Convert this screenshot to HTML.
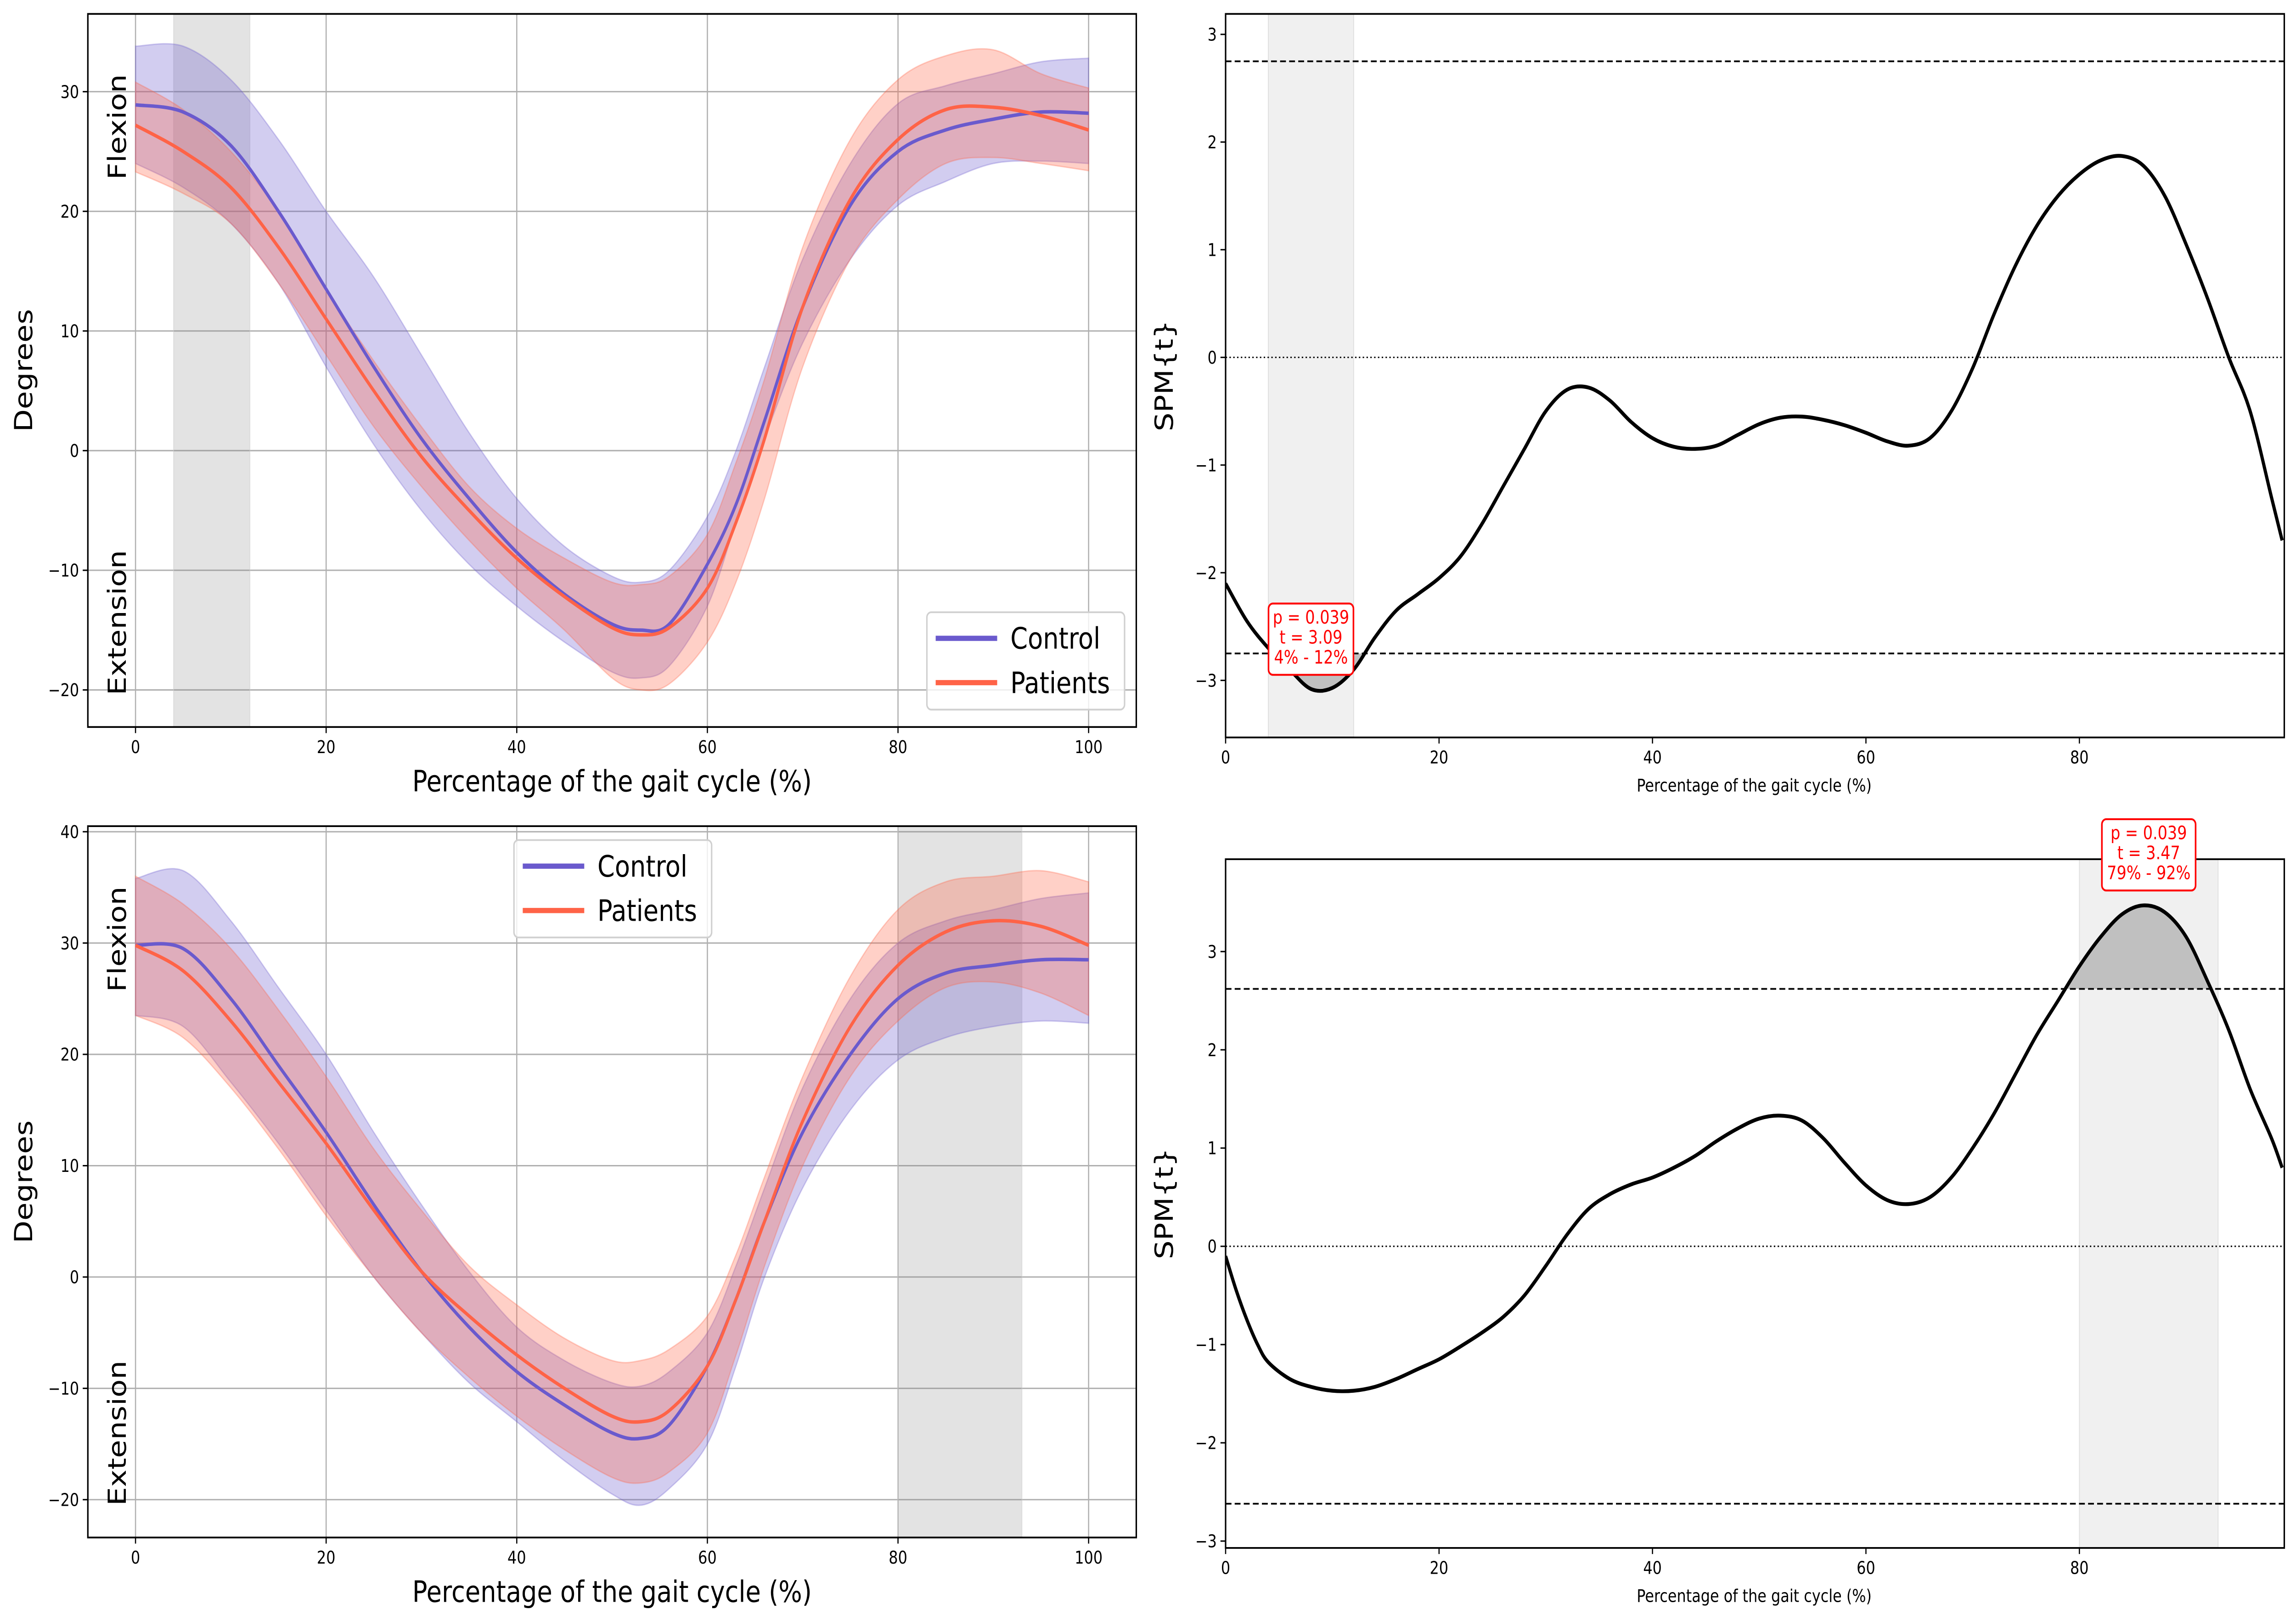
<!DOCTYPE html>
<html><head><meta charset="utf-8"><style>
html,body{margin:0;padding:0;background:#fff;width:100vw;height:100vh;overflow:hidden;}
svg{display:block;position:absolute;left:0;top:0;width:100vw;height:100vh;font-family:"DejaVu Sans","Liberation Sans",sans-serif;}
</style></head><body>
<svg id="fig" viewBox="0 0 1568 932" preserveAspectRatio="none" xmlns="http://www.w3.org/2000/svg"><g id="root"></g></svg>
<script>
// ---- data ----
const pctTL = [0,5,10,15,20,25,30,35,40,45,50,53,56,60,63,66,70,75,80,85,90,95,100];
const ctrlMeanTL = [28.9,28.3,25.5,20,13.5,7,1,-4,-8.5,-12,-14.5,-15,-14.5,-9.5,-4.5,2.5,12,20.5,25,26.8,27.7,28.3,28.2];
const ctrlUpTL   = [33.8,33.8,31,26,20,14.5,8,1.5,-4,-8,-10.5,-11,-10,-5.5,0,7,16,24,29,30.5,31.5,32.5,32.8];
const ctrlLoTL   = [24,22,19,14,7,0.5,-5,-9.5,-13,-16,-18.5,-19,-18,-13,-6,1,9,16,20.5,22.5,24,24.2,24];
const patMeanTL  = [27.2,25,22,17,11,5,-0.5,-5,-9,-12.2,-14.8,-15.4,-14.8,-11.5,-6,1,12,21,26,28.5,28.7,28,26.8];
const patUpTL    = [30.8,28.5,25,20,13.5,7.5,2,-3,-6.5,-9,-11,-11.2,-10.5,-7,-1,6,17,26,31,33,33.5,31.5,30.3];
const patLoTL    = [23.3,21.5,19,14,8,2,-3,-7.5,-11.5,-15,-19,-20,-19.5,-16,-11,-4,7,16,21,24,24.5,24,23.4];

const pctBL = [0,5,10,15,20,25,30,35,40,45,50,53,56,60,63,66,70,75,80,85,90,95,100];
const ctrlMeanBL = [29.8,29.5,25,19,13,6.5,0.5,-4.5,-8.5,-11.5,-14,-14.5,-13.3,-8,-2,5,13,20,25,27.3,28,28.5,28.5];
const ctrlUpBL   = [35.8,36.5,32,26,20,13,6.5,0.5,-4.5,-7.5,-9.5,-9.8,-8.5,-5,1,8,17,25,30,32,33,34,34.5];
const ctrlLoBL   = [23.5,22.5,17.5,12,6,0,-5,-9.5,-13,-16.5,-19.5,-20.5,-19,-15,-8,0,8,15,19.5,21.5,22.5,23,22.8];
const patMeanBL  = [29.8,27.5,23,17.5,12,6,0.5,-3.5,-7,-10,-12.5,-13,-12,-8,-2,5,14,22.5,28,31,32,31.5,29.8];
const patUpBL    = [36,33.5,29.5,24,18,11.5,6,1,-2.5,-5.5,-7.5,-7.5,-6.5,-3.5,2,9,18,27,33,35.5,36,36.5,35.5];
const patLoBL    = [23.5,21.5,17,11.5,5.5,0,-5,-9,-12.5,-15.5,-18,-18.5,-17.5,-14,-7,1,10,18,23,26,26.5,25.5,23.5];

const pctTR = [0,2,4,6,8,10,12,14,16,18,20,22,24,26,28,30,32,34,36,38,40,42,44,46,48,50,52,54,56,58,60,62,64,66,68,70,72,74,76,78,80,82,84,86,88,90,92,94,96,98,99];
const spmTR = [-2.1,-2.45,-2.7,-2.9,-3.08,-3.07,-2.9,-2.6,-2.35,-2.2,-2.05,-1.85,-1.55,-1.2,-0.85,-0.5,-0.3,-0.28,-0.4,-0.6,-0.75,-0.83,-0.85,-0.82,-0.72,-0.62,-0.56,-0.55,-0.58,-0.63,-0.7,-0.78,-0.82,-0.75,-0.5,-0.1,0.4,0.85,1.22,1.5,1.7,1.83,1.87,1.78,1.5,1.05,0.55,0,-0.5,-1.3,-1.7];
const pctBR = [0,1,2,3,4,6,8,10,12,14,16,18,20,22,24,26,28,30,32,34,36,38,40,42,44,46,48,50,52,54,56,58,60,62,64,66,68,70,72,74,76,78,80,82,84,86,88,90,92,94,96,98,99];
const spmBR = [-0.1,-0.45,-0.75,-1.0,-1.18,-1.35,-1.43,-1.47,-1.47,-1.43,-1.35,-1.25,-1.15,-1.02,-0.88,-0.72,-0.5,-0.2,0.12,0.38,0.53,0.63,0.7,0.8,0.92,1.07,1.2,1.3,1.33,1.28,1.1,0.85,0.62,0.47,0.43,0.5,0.7,1.0,1.35,1.75,2.15,2.5,2.85,3.15,3.38,3.47,3.4,3.15,2.7,2.2,1.6,1.1,0.8];
const threshTR = 2.75;
const threshBR = 2.62;
const spanTL = [4,12];
const spanBL = [80,93];
const spanTR = [4,12];
const spanBR = [80,93];
const annTR = ["p = 0.039","t = 3.09","4% - 12%"];
const annBR = ["p = 0.039","t = 3.47","79% - 92%"];
const yTicksAngleTL = [-20,-10,0,10,20,30];
const yTicksAngleBL = [-20,-10,0,10,20,30,40];
const xTicksAngle = [0,20,40,60,80,100];
const xTicksSpm = [0,20,40,60,80];
const yTicksSpmTR = [-3,-2,-1,0,1,2,3];
const yTicksSpmBR = [-3,-2,-1,0,1,2,3];

// ---- helpers ----
const NS="http://www.w3.org/2000/svg";
const svg=document.getElementById('root');
function mk(tag,attrs,parent){const e=document.createElementNS(NS,tag);for(const k in attrs)e.setAttribute(k,attrs[k]);(parent||svg).appendChild(e);return e;}
function scale(d0,d1,r0,r1){return v=>r0+(v-d0)/(d1-d0)*(r1-r0);}
function pts(xs,ys,X,Y){return xs.map((x,i)=>X(x).toFixed(2)+','+Y(ys[i]).toFixed(2)).join(' ');}
// Catmull-Rom smooth path segment (no leading M)
function smooth(xs,ys,X,Y,first){
  const P=xs.map((x,i)=>[X(x),Y(ys[i])]);
  let d=(first?'M':'L')+P[0][0].toFixed(2)+','+P[0][1].toFixed(2);
  for(let i=0;i<P.length-1;i++){
    const p0=P[i-1]||P[i],p1=P[i],p2=P[i+1],p3=P[i+2]||P[i+1];
    const c1=[p1[0]+(p2[0]-p0[0])/6,p1[1]+(p2[1]-p0[1])/6];
    const c2=[p2[0]-(p3[0]-p1[0])/6,p2[1]-(p3[1]-p1[1])/6];
    d+='C'+c1[0].toFixed(2)+','+c1[1].toFixed(2)+' '+c2[0].toFixed(2)+','+c2[1].toFixed(2)+' '+p2[0].toFixed(2)+','+p2[1].toFixed(2);
  }
  return d;
}

function axes(name,box,xlim,ylim){
  const g=mk('g',{});
  
  
  const X=scale(xlim[0],xlim[1],box.l,box.r), Y=scale(ylim[0],ylim[1],box.b,box.t);
  const cid=name+'-clip';
  const cp=mk('clipPath',{id:cid},g); mk('rect',{x:box.l,y:box.t,width:box.r-box.l,height:box.b-box.t},cp);
  const inner=mk('g',{'clip-path':'url(#'+cid+')'},g);
  return {g,inner,X,Y,box};
}
function frame(a){
  const r=mk('rect',{x:a.box.l,y:a.box.t,width:a.box.r-a.box.l,height:a.box.b-a.box.t,fill:'none',stroke:'#000','stroke-width':1},a.g);
  
  
}
function xticks(a,ticks,grid){
  ticks.forEach(t=>{const x=a.X(t);
    if(grid)mk('line',{x1:x,x2:x,y1:a.box.t,y2:a.box.b,stroke:'#b0b0b0','stroke-width':0.8},a.inner);
    mk('line',{x1:x,x2:x,y1:a.box.b,y2:a.box.b+3.5,stroke:'#000','stroke-width':0.8},a.g);
    const tx=mk('text',{x:x,y:a.box.b+15,'font-size':10,'text-anchor':'middle'},a.g);tx.textContent=t;
    
    
  });
}
function yticks(a,ticks,grid){
  ticks.forEach(t=>{const y=a.Y(t);
    if(grid)mk('line',{x1:a.box.l,x2:a.box.r,y1:y,y2:y,stroke:'#b0b0b0','stroke-width':0.8},a.inner);
    mk('line',{x1:a.box.l-3.5,x2:a.box.l,y1:y,y2:y,stroke:'#000','stroke-width':0.8},a.g);
    const tx=mk('text',{x:a.box.l-6,y:y+3.6,'font-size':10,'text-anchor':'end'},a.g);tx.textContent=(t<0?'\u2212'+(-t):t);
    
    
  });
}
function label(text,x,y,size,rot,name,color){
  const t=mk('text',{x:x,y:y,'font-size':size,'text-anchor':'middle',fill:color||'#000',transform:rot?'rotate(-90 '+x+' '+y+')':''});
  t.textContent=text;
  
  
  return t;
}
function band(a,xs,lo,up,color,name){
  const d=smooth(xs,up,a.X,a.Y,true)+smooth(xs.slice().reverse(),lo.slice().reverse(),a.X,a.Y,false)+'Z';
  const e=mk('path',{d:d,fill:color,'fill-opacity':0.3,stroke:color,'stroke-opacity':0.3,'stroke-width':0.8},a.inner);
  
  
}
function line(a,xs,ys,color,w,name){
  const e=mk('path',{d:smooth(xs,ys,a.X,a.Y,true),fill:'none',stroke:color,'stroke-width':w,'stroke-linejoin':'round'},a.inner);
  
  
}
function span(a,s,color,name,op){
  const e=mk('rect',{x:a.X(s[0]),y:a.box.t,width:a.X(s[1])-a.X(s[0]),height:a.box.b-a.box.t,fill:color,'fill-opacity':op,stroke:'#ccc','stroke-opacity':0.5,'stroke-width':0.6},a.inner);
  
  
}
function legend(x,y){
  const g=mk('g',{});
  
  
  mk('rect',{x:x,y:y,width:135,height:56,rx:3,fill:'#fff','fill-opacity':0.8,stroke:'#d0d0d0','stroke-width':1},g);
  [['Control','#6a5acd'],['Patients','#ff6347']].forEach((it,i)=>{
    const yy=y+15+i*25.5;
    const l=mk('line',{x1:x+6,x2:x+48,y1:yy,y2:yy,stroke:it[1],'stroke-width':3},g);
    
    
    const t=mk('text',{x:x+57,y:yy+6,'font-size':17},g);t.textContent=it[0];
    
    
  });
}
function anglePanel(name,box,ylim,xs,cm,cu,cl,pm,pu,pl,sp,yt,lgx,lgy){
  const a=axes(name,box,[-5,105],ylim);
  xticks(a,xTicksAngle,true); yticks(a,yt,true);
  span(a,sp,'#808080','significance-span',0.22);
  band(a,xs,cl,cu,'#6a5acd','control-band');
  band(a,xs,pl,pu,'#ff6347','patients-band');
  line(a,xs,cm,'#6a5acd',2,'control-mean-line');
  line(a,xs,pm,'#ff6347',2,'patients-mean-line');
  frame(a);
  legend(lgx,lgy);
  const cy=(box.t+box.b)/2;
  label('Degrees',22,cy,17,true,'y-axis-title');
  label('Flexion',86,box.t+65,17,true,'flexion-label');
  label('Extension',86,box.b-60,17,true,'extension-label');
  label('Percentage of the gait cycle (%)',418,box.b+37,17,false,'x-axis-title');
  return a;
}
function spmPanel(name,box,ylim,xs,ys,th,sp,yt,ann,annY,above){
  const a=axes(name,box,[0,99.2],ylim);
  xticks(a,xTicksSpm,false); yticks(a,yt,false);
  span(a,sp,'#f0f0f0','significance-span',1);
  const fx=[],fy=[];
  for(let i=0;i<xs.length;i++){const v=ys[i];
    if(above? v>=th : v<=-th){fx.push(xs[i]);fy.push(v);} }
  if(fx.length){
    const t=above?th:-th;
    const cross=(i,j)=>xs[i]+(t-ys[i])/(ys[j]-ys[i])*(xs[j]-xs[i]);
    const i0=xs.indexOf(fx[0]), i1=xs.indexOf(fx[fx.length-1]);
    const px=[cross(i0-1,i0)].concat(fx,[cross(i1,i1+1)]);
    const py=[t].concat(fy,[t]);
    const e=mk('polygon',{points:pts(px,py,a.X,a.Y),fill:'#c0c0c0',stroke:'none'},a.inner);
    
    
  }
  [th,-th].forEach((v,i)=>{const e=mk('line',{x1:box.l,x2:box.r,y1:a.Y(v),y2:a.Y(v),stroke:'#000','stroke-width':1,'stroke-dasharray':'4,2.2'},a.inner);
    
    });
  const z=mk('line',{x1:box.l,x2:box.r,y1:a.Y(0),y2:a.Y(0),stroke:'#000','stroke-width':0.8,'stroke-dasharray':'1,1.6'},a.inner);
  
  
  line(a,xs,ys,'#000',2.2,'spm-t-curve');
  frame(a);
  const cx=a.X((sp[0]+sp[1])/2);
  const g=mk('g',{});
  
  
  const w=ann[2].length>8?64:58;
  mk('rect',{x:cx-w/2,y:annY,width:w,height:41,rx:3,fill:'#fff',stroke:'#ff0000','stroke-width':1.1},g);
  ann.forEach((s,i)=>{const t=mk('text',{x:cx,y:annY+11.5+i*11.5,'font-size':10.5,'text-anchor':'middle',fill:'#ff0000'},g);t.textContent=s;});
  label('SPM{t}',801,(box.t+box.b)/2,17,true,'y-axis-title');
  label('Percentage of the gait cycle (%)',1198,box.b+31,10,false,'x-axis-title');
  return a;
}

anglePanel('angle-top',{l:60,r:776,t:8,b:418},[-23.1,36.5],pctTL,ctrlMeanTL,ctrlUpTL,ctrlLoTL,patMeanTL,patUpTL,patLoTL,spanTL,yTicksAngleTL,633,352);
anglePanel('angle-bottom',{l:60,r:776,t:475,b:884},[-23.4,40.5],pctBL,ctrlMeanBL,ctrlUpBL,ctrlLoBL,patMeanBL,patUpBL,patLoBL,spanBL,yTicksAngleBL,351,483);
spmPanel('spm-top',{l:837,r:1560,t:8,b:424},[-3.53,3.19],pctTR,spmTR,threshTR,spanTR,yTicksSpmTR,annTR,347,false);
spmPanel('spm-bottom',{l:837,r:1560,t:494,b:890},[-3.07,3.94],pctBR,spmBR,threshBR,spanBR,yTicksSpmBR,annBR,471,true);
</script>
</body></html>
